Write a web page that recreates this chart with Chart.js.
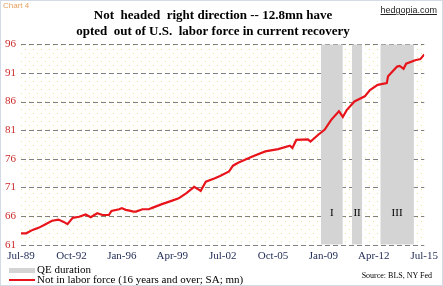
<!DOCTYPE html>
<html>
<head>
<meta charset="utf-8">
<script src="https://cdn.jsdelivr.net/npm/chart.js@4.4.0/dist/chart.umd.min.js"></script>
<style>
  html, body { margin: 0; padding: 0; background: #fff; }
  #wrap { position: relative; width: 443px; height: 286px; overflow: hidden; }
  #wrap canvas { position: absolute; left: 0; top: 0; }
  #frame { position: absolute; left: 0; top: 0; width: 441px; height: 284px; border: 1px solid #d3dbe6; pointer-events: none; }
  .txt { position: absolute; white-space: nowrap; }
  #chartno { left: 3px; top: 1px; font: 8px "Liberation Sans", Arial, sans-serif; color: #e8a060; }
  #site { right: 6px; top: 5px; font: 9px "Liberation Sans", Arial, sans-serif; color: #222; text-decoration: underline; }
  #source { right: 11px; top: 271px; font: 8px "Liberation Serif", "Times New Roman", serif; color: #000; }
  .leg { position: absolute; left: 9px; font: 11px "Liberation Serif", "Times New Roman", serif; color: #000; white-space: nowrap; }
  .sw { display: inline-block; width: 26px; vertical-align: middle; margin-right: 2px; }
</style>
</head>
<body>
<div id="wrap">
  <canvas id="c" width="443" height="286"></canvas>
  <div class="txt" id="chartno">Chart 4</div>
  <div class="txt" id="site">hedgopia.com</div>
  <div class="leg" style="top:263px;"><span class="sw" style="height:5px;background:#d4d4d4;"></span>QE duration</div>
  <div class="leg" style="top:273px;"><span class="sw" style="height:2px;background:#e8141b;"></span>Not in labor force (16 years and over; SA; mn)</div>
  <div class="txt" id="source">Source: BLS, NY Fed</div>
  <div id="frame"></div>
</div>
<script>
// ---- data ----
const dates = ["1989-07","1989-11","1990-04","1990-09","1991-02","1991-07","1991-12","1992-04","1992-07","1992-11",
  "1993-04","1993-09","1994-01","1994-06","1994-10","1995-03","1995-05","1995-11","1996-01","1996-04",
  "1996-06","1996-10","1996-12","1997-05","1997-10","1997-12","1998-08","1999-04","1999-09","2000-03",
  "2000-09","2000-12","2001-02","2001-06","2002-01","2002-05","2002-12","2003-03","2003-07","2004-06",
  "2005-04","2006-02","2006-11","2007-01","2007-04","2008-01","2008-03","2008-09","2009-02","2009-07",
  "2010-01","2010-04","2010-07","2011-01","2011-09","2012-01","2012-07","2013-02","2013-03","2013-10",
  "2013-12","2014-03","2014-05","2014-12","2015-04","2015-07"];
const notInLaborForce = [63.0,63.0,63.6,64.0,64.6,65.2,65.4,65.0,64.6,65.7,
  65.9,66.3,65.8,66.5,66.2,66.2,66.9,67.2,67.4,67.1,
  67.0,66.8,66.8,67.2,67.2,67.4,68.1,68.7,69.1,70.0,
  71.1,70.7,70.4,72.0,72.6,73.0,73.8,74.8,75.3,76.4,
  77.3,77.7,78.3,77.9,79.3,79.4,79.0,80.2,81.1,82.8,
  84.3,83.3,84.5,86.0,86.9,88.0,88.9,89.2,90.4,92.1,
  92.2,91.7,92.6,93.2,93.4,94.2];
const tickLabels = ["Jul-89","Oct-92","Jan-96","Apr-99","Jul-02","Oct-05","Jan-09","Apr-12","Jul-15"];
const qeStart = ["2008-11","2010-11","2012-09"];
const qeEnd = ["2010-03","2011-06","2014-10"];
const qeNames = ["I","II","III"];

const base = "1989-07";
function monthIdx(s) {
  const [y, m] = s.split("-").map(Number);
  const [by, bm] = base.split("-").map(Number);
  return (y - by) * 12 + (m - bm);
}
const lastIdx = monthIdx(dates[dates.length - 1]);
const tickStep = lastIdx / (tickLabels.length - 1);

const datasets = [{
  label: "Not in labor force (16 years and over; SA; mn)",
  data: dates.map((d, i) => ({ x: monthIdx(d), y: notInLaborForce[i] })),
  borderColor: "#e8141b",
  borderWidth: 2.2,
  pointRadius: 0,
  tension: 0,
  fill: false
}];
qeStart.forEach((s, i) => {
  datasets.push({
    label: "QE " + qeNames[i],
    data: [{ x: monthIdx(s), y: 96 }, { x: monthIdx(qeEnd[i]) + 1, y: 96 }],
    borderWidth: 0,
    borderColor: "rgba(0,0,0,0)",
    backgroundColor: "#d4d4d4",
    pointRadius: 0,
    fill: "start"
  });
});

// dotted yellow plot background
const pat = document.createElement("canvas");
pat.width = 8; pat.height = 8;
const pctx = pat.getContext("2d");
pctx.fillStyle = "#ffffff"; pctx.fillRect(0, 0, 8, 8);
pctx.fillStyle = "#ece58a";
pctx.fillRect(1, 1, 1, 1);
pctx.fillRect(5, 5, 1, 1);

const bgPlugin = {
  id: "bg",
  beforeDraw(chart) {
    const { ctx, chartArea: a } = chart;
    ctx.save();
    ctx.fillStyle = "#fff";
    ctx.fillRect(0, 0, chart.width, chart.height);
    ctx.fillStyle = ctx.createPattern(pat, "repeat");
    ctx.fillRect(a.left, a.top, a.right - a.left, a.bottom - a.top);
    ctx.restore();
  },
  beforeDatasetsDraw(chart) {
    const { ctx, chartArea: a } = chart;
    const ys = chart.scales.y;
    ctx.save();
    ctx.strokeStyle = "#808080";
    ctx.lineWidth = 1;
    ctx.setLineDash([5, 3]);
    ys.ticks.forEach(t => {
      const y = Math.round(ys.getPixelForValue(t.value)) + 0.5;
      ctx.beginPath();
      ctx.moveTo(a.left, y);
      ctx.lineTo(a.right, y);
      ctx.stroke();
    });
    ctx.restore();
  },
  afterDatasetsDraw(chart) {
    const { ctx } = chart;
    const xs = chart.scales.x, ys = chart.scales.y;
    ctx.save();
    ctx.font = "11px 'Liberation Serif', 'Times New Roman', serif";
    ctx.fillStyle = "#000";
    ctx.textAlign = "center";
    ctx.textBaseline = "middle";
    qeNames.forEach((n, i) => {
      const mid = (monthIdx(qeStart[i]) + monthIdx(qeEnd[i]) + 1) / 2;
      ctx.fillText(n, xs.getPixelForValue(mid), ys.getPixelForValue(66.6));
    });
    ctx.restore();
  }
};

new Chart(document.getElementById("c"), {
  type: "line",
  data: { datasets },
  options: {
    responsive: false,
    animation: false,
    layout: { padding: { left: 0, right: 17, top: 0, bottom: 18 } },
    plugins: {
      legend: { display: false },
      tooltip: { enabled: false },
      title: {
        display: true,
        text: ["Not  headed  right direction -- 12.8mn have", "opted  out of U.S.  labor force in current recovery"],
        font: { family: "'Liberation Serif', 'Times New Roman', serif", size: 13, weight: "bold", lineHeight: 1.2 },
        color: "#000",
        padding: { top: 8, bottom: 5 }
      }
    },
    scales: {
      x: {
        type: "linear",
        min: 0,
        max: lastIdx,
        grid: { display: false, drawTicks: false },
        border: { display: false },
        afterBuildTicks(s) {
          s.ticks = tickLabels.map((_, i) => ({ value: i * tickStep }));
        },
        ticks: {
          autoSkip: false,
          maxRotation: 0,
          padding: 5,
          color: "#1f2a55",
          font: { family: "'Liberation Serif', 'Times New Roman', serif", size: 11 },
          callback: (v) => tickLabels[Math.round(v / tickStep)]
        }
      },
      y: {
        min: 61,
        max: 96,
        afterFit(s) { s.width = 21; },
        grid: { display: false, drawTicks: false },
        border: { display: false },
        ticks: {
          stepSize: 5,
          padding: 5,
          color: "#cc2a2a",
          font: { family: "'Liberation Serif', 'Times New Roman', serif", size: 11 }
        }
      }
    }
  },
  plugins: [bgPlugin]
});
</script>
</body>
</html>
